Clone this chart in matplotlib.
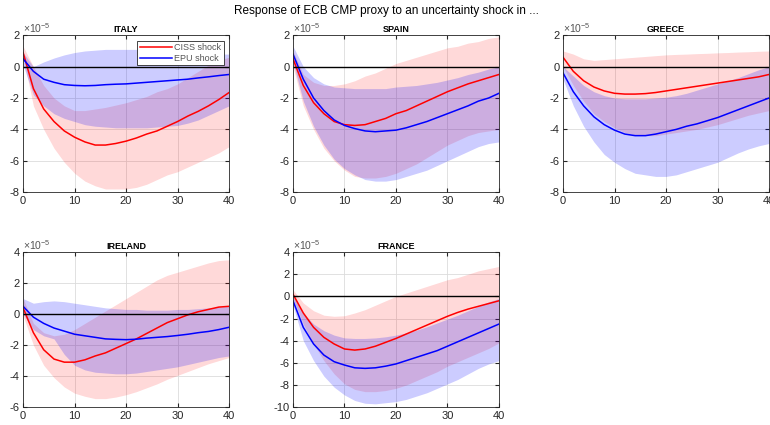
import matplotlib.pyplot as plt
import numpy as np

# horizons 0..40 read every 2 periods, values in units of 1e-5
horizon = list(range(0, 41, 2))
countries = ['ITALY', 'SPAIN', 'GREECE', 'IRELAND', 'FRANCE']
shock_labels = ['CISS shock', 'EPU shock']

italy_ciss = [0.9, -1.4, -2.7, -3.5, -4.1, -4.5, -4.8, -5.0, -5.0, -4.9, -4.75,
              -4.55, -4.3, -4.1, -3.8, -3.5, -3.15, -2.85, -2.5, -2.1, -1.65]
italy_ciss_hi = [1.3, 0.0, -1.2, -2.0, -2.5, -2.8, -2.8, -2.7, -2.6, -2.45, -2.3,
                 -2.1, -1.9, -1.6, -1.4, -1.1, -0.7, -0.3, 0.1, 0.4, 0.6]
italy_ciss_lo = [0.6, -2.5, -4.0, -5.2, -6.1, -6.8, -7.3, -7.6, -7.8, -7.8, -7.8,
                 -7.7, -7.5, -7.2, -6.9, -6.7, -6.4, -6.1, -5.8, -5.5, -5.1]
italy_epu = [0.5, -0.3, -0.8, -1.0, -1.15, -1.2, -1.22, -1.2, -1.15, -1.12, -1.1,
             -1.05, -1.0, -0.95, -0.9, -0.85, -0.8, -0.72, -0.65, -0.57, -0.5]
italy_epu_hi = [0.9, 0.0, 0.3, 0.55, 0.75, 0.9, 1.0, 1.05, 1.1, 1.1, 1.1,
                1.1, 1.1, 1.05, 1.0, 1.0, 0.95, 0.9, 0.85, 0.8, 0.8]
italy_epu_lo = [0.1, -1.8, -2.5, -3.0, -3.3, -3.5, -3.7, -3.8, -3.85, -3.9, -3.9,
                -3.9, -3.9, -3.85, -3.8, -3.75, -3.6, -3.4, -3.1, -2.8, -2.5]

spain_ciss = [0.5, -1.2, -2.3, -3.0, -3.5, -3.7, -3.75, -3.7, -3.5, -3.3, -3.0,
              -2.8, -2.5, -2.2, -1.9, -1.6, -1.35, -1.1, -0.9, -0.7, -0.5]
spain_ciss_hi = [1.0, -0.5, -1.0, -1.2, -1.2, -1.1, -0.9, -0.6, -0.4, -0.1, 0.2,
                 0.4, 0.6, 0.8, 1.0, 1.2, 1.3, 1.5, 1.6, 1.8, 1.9]
spain_ciss_lo = [0.0, -2.5, -4.0, -5.2, -6.0, -6.6, -7.0, -7.1, -7.1, -7.0, -6.8,
                 -6.5, -6.2, -5.8, -5.4, -5.0, -4.7, -4.4, -4.2, -4.1, -4.0]
spain_epu = [0.8, -0.8, -2.0, -2.8, -3.4, -3.75, -3.95, -4.1, -4.15, -4.1, -4.05,
             -3.9, -3.7, -3.5, -3.25, -3.0, -2.75, -2.5, -2.2, -2.0, -1.7]
spain_epu_hi = [1.3, 0.0, -0.7, -1.1, -1.3, -1.35, -1.4, -1.4, -1.4, -1.4, -1.3,
                -1.25, -1.2, -1.1, -1.0, -0.85, -0.7, -0.5, -0.35, -0.15, 0.0]
spain_epu_lo = [0.3, -2.2, -3.8, -5.0, -5.9, -6.5, -6.9, -7.2, -7.3, -7.3, -7.2,
                -7.0, -6.8, -6.6, -6.3, -6.0, -5.7, -5.4, -5.1, -4.9, -4.8]

greece_ciss = [0.6, -0.3, -0.9, -1.3, -1.55, -1.7, -1.75, -1.75, -1.72, -1.65, -1.55,
               -1.45, -1.35, -1.25, -1.15, -1.05, -0.95, -0.85, -0.75, -0.65, -0.5]
greece_ciss_hi = [1.0, 0.8, 0.5, 0.4, 0.45, 0.5, 0.55, 0.6, 0.65, 0.7, 0.75,
                  0.78, 0.8, 0.83, 0.85, 0.88, 0.9, 0.93, 0.95, 0.98, 1.0]
greece_ciss_lo = [0.0, -1.2, -2.2, -3.0, -3.5, -3.9, -4.2, -4.35, -4.4, -4.4, -4.3,
                  -4.2, -4.1, -4.0, -3.85, -3.7, -3.5, -3.3, -3.1, -2.95, -2.8]
greece_epu = [-0.4, -1.6, -2.5, -3.2, -3.7, -4.05, -4.3, -4.4, -4.4, -4.3, -4.15,
              -4.0, -3.8, -3.65, -3.45, -3.25, -3.0, -2.75, -2.5, -2.25, -2.0]
greece_epu_hi = [0.0, -0.6, -1.2, -1.6, -1.85, -2.0, -2.05, -2.05, -2.05, -2.0, -1.95,
                 -1.85, -1.7, -1.5, -1.3, -1.1, -0.9, -0.7, -0.45, -0.2, 0.0]
greece_epu_lo = [-0.8, -2.5, -3.8, -4.8, -5.6, -6.1, -6.5, -6.8, -6.9, -7.0, -7.0,
                 -6.9, -6.7, -6.5, -6.3, -6.1, -5.8, -5.5, -5.25, -5.05, -4.9]

ireland_ciss = [0.4, -1.2, -2.3, -2.9, -3.1, -3.1, -2.95, -2.7, -2.5, -2.2, -1.9,
                -1.6, -1.25, -0.9, -0.55, -0.3, -0.05, 0.15, 0.3, 0.45, 0.5]
ireland_ciss_hi = [1.0, -0.6, -1.2, -1.4, -1.3, -1.0, -0.6, -0.2, 0.2, 0.6, 1.0,
                   1.4, 1.8, 2.2, 2.5, 2.7, 2.9, 3.1, 3.3, 3.45, 3.5]
ireland_ciss_lo = [-0.1, -2.0, -3.3, -4.1, -4.7, -5.1, -5.3, -5.45, -5.45, -5.35, -5.2,
                   -5.0, -4.75, -4.5, -4.2, -3.95, -3.7, -3.45, -3.2, -3.0, -2.8]
ireland_epu = [0.5, -0.2, -0.6, -0.9, -1.1, -1.3, -1.4, -1.5, -1.6, -1.63, -1.65,
               -1.62, -1.55, -1.5, -1.45, -1.38, -1.3, -1.2, -1.12, -1.0, -0.85]
ireland_epu_hi = [1.0, 0.7, 0.8, 0.85, 0.8, 0.7, 0.6, 0.5, 0.4, 0.35, 0.3,
                  0.3, 0.25, 0.25, 0.25, 0.3, 0.3, 0.35, 0.4, 0.45, 0.5]
ireland_epu_lo = [0.0, -1.0, -1.4, -1.6, -2.6, -3.3, -3.6, -3.75, -3.8, -3.85, -3.85,
                  -3.8, -3.7, -3.6, -3.5, -3.4, -3.25, -3.1, -2.95, -2.8, -2.7]

france_ciss = [0.2, -1.5, -2.8, -3.7, -4.3, -4.75, -4.85, -4.75, -4.5, -4.15, -3.8,
               -3.4, -3.0, -2.6, -2.2, -1.8, -1.45, -1.15, -0.9, -0.65, -0.4]
france_ciss_hi = [0.6, -0.6, -1.3, -1.7, -1.8, -1.75, -1.5, -1.2, -0.8, -0.4, 0.0,
                  0.3, 0.6, 0.9, 1.2, 1.5, 1.7, 2.0, 2.3, 2.5, 2.7]
france_ciss_lo = [-0.2, -2.5, -4.3, -5.8, -7.0, -7.9, -8.4, -8.6, -8.6, -8.5, -8.3,
                  -8.0, -7.6, -7.2, -6.8, -6.3, -5.9, -5.5, -5.1, -4.7, -4.2]
france_epu = [-0.4, -2.8, -4.3, -5.3, -5.9, -6.2, -6.45, -6.5, -6.45, -6.3, -6.1,
              -5.8, -5.5, -5.2, -4.9, -4.5, -4.1, -3.7, -3.3, -2.9, -2.5]
france_epu_hi = [0.0, -1.5, -2.5, -3.1, -3.5, -3.75, -3.8, -3.8, -3.75, -3.65, -3.5,
                 -3.3, -3.05, -2.75, -2.4, -2.05, -1.7, -1.3, -0.9, -0.5, -0.2]
france_epu_lo = [-0.8, -4.0, -5.8, -7.2, -8.2, -8.9, -9.4, -9.65, -9.7, -9.6, -9.5,
                 -9.3, -9.0, -8.7, -8.3, -7.9, -7.5, -7.0, -6.5, -6.1, -5.8]

panels = [
    (italy_ciss, italy_ciss_lo, italy_ciss_hi, italy_epu, italy_epu_lo, italy_epu_hi),
    (spain_ciss, spain_ciss_lo, spain_ciss_hi, spain_epu, spain_epu_lo, spain_epu_hi),
    (greece_ciss, greece_ciss_lo, greece_ciss_hi, greece_epu, greece_epu_lo, greece_epu_hi),
    (ireland_ciss, ireland_ciss_lo, ireland_ciss_hi, ireland_epu, ireland_epu_lo, ireland_epu_hi),
    (france_ciss, france_ciss_lo, france_ciss_hi, france_epu, france_epu_lo, france_epu_hi),
]
ylims = [(-8, 2), (-8, 2), (-8, 2), (-6, 4), (-10, 4)]

# axes boxes in figure fractions (left, bottom, width, height)
lefts = [0.030, 0.3805, 0.7312, 0.030, 0.3805]
bottoms = [0.548, 0.548, 0.548, 0.042, 0.042]
width = 0.2675
heights = [0.369, 0.369, 0.369, 0.365, 0.365]

scale = 1e-5
tick_col = '#262626'

plt.rcParams['font.family'] = ['Liberation Sans', 'DejaVu Sans']
plt.rcParams['mathtext.fontset'] = 'custom'
plt.rcParams['mathtext.rm'] = 'Liberation Sans'

fig = plt.figure(figsize=(7.7, 4.25), dpi=100)
fig.text(0.502, 0.988, 'Response of ECB CMP proxy to an uncertainty shock in ...',
         ha='center', va='top', fontsize=8.5)

x = np.array(horizon)
for i, name in enumerate(countries):
    ciss, ciss_lo, ciss_hi, epu, epu_lo, epu_hi = [np.array(a) * scale for a in panels[i]]
    ax = fig.add_axes([lefts[i], bottoms[i], width, heights[i]])
    ax.fill_between(x, ciss_lo, ciss_hi, color='red', alpha=0.15, lw=0)
    l1, = ax.plot(x, ciss, color='red', lw=1.1, label=shock_labels[0])
    ax.fill_between(x, epu_lo, epu_hi, color='blue', alpha=0.2, lw=0)
    l2, = ax.plot(x, epu, color='blue', lw=1.1, label=shock_labels[1])
    ax.axhline(0, color='black', lw=1.0)

    ax.set_xlim(0, 40)
    ax.set_ylim(ylims[i][0] * scale, ylims[i][1] * scale)
    ax.set_xticks(range(0, 41, 10))
    yt = np.arange(ylims[i][0], ylims[i][1] + 1, 2)
    ax.set_yticks(yt * scale)
    ax.set_yticklabels([str(v) for v in yt])
    ax.grid(True, color='#dcdcdc', lw=0.6)
    ax.set_axisbelow(True)
    ax.tick_params(direction='in', labelsize=8, colors=tick_col, length=3,
                   top=True, right=True, pad=2.5)
    for s in ax.spines.values():
        s.set_color(tick_col)
        s.set_linewidth(0.6)
    ax.set_title(name, fontsize=6.5, fontweight='bold', pad=2)
    ax.text(0.0, 1.0, r'$\times10^{-5}$', transform=ax.transAxes, fontsize=7.5,
            color='#555555', ha='left', va='bottom')

    if i == 0:
        leg = ax.legend(handles=[l1, l2], loc='upper right', fontsize=6.5,
                        frameon=True, fancybox=False, borderpad=0.3,
                        handlelength=3.6, handletextpad=0.2,
                        borderaxespad=0.6, labelspacing=0.15)
        leg.get_frame().set_edgecolor('#262626')
        leg.get_frame().set_linewidth(0.6)
        leg.get_frame().set_alpha(1.0)
        for t in leg.get_texts():
            t.set_color('#555555')

fig.savefig('out.png', dpi=100)
